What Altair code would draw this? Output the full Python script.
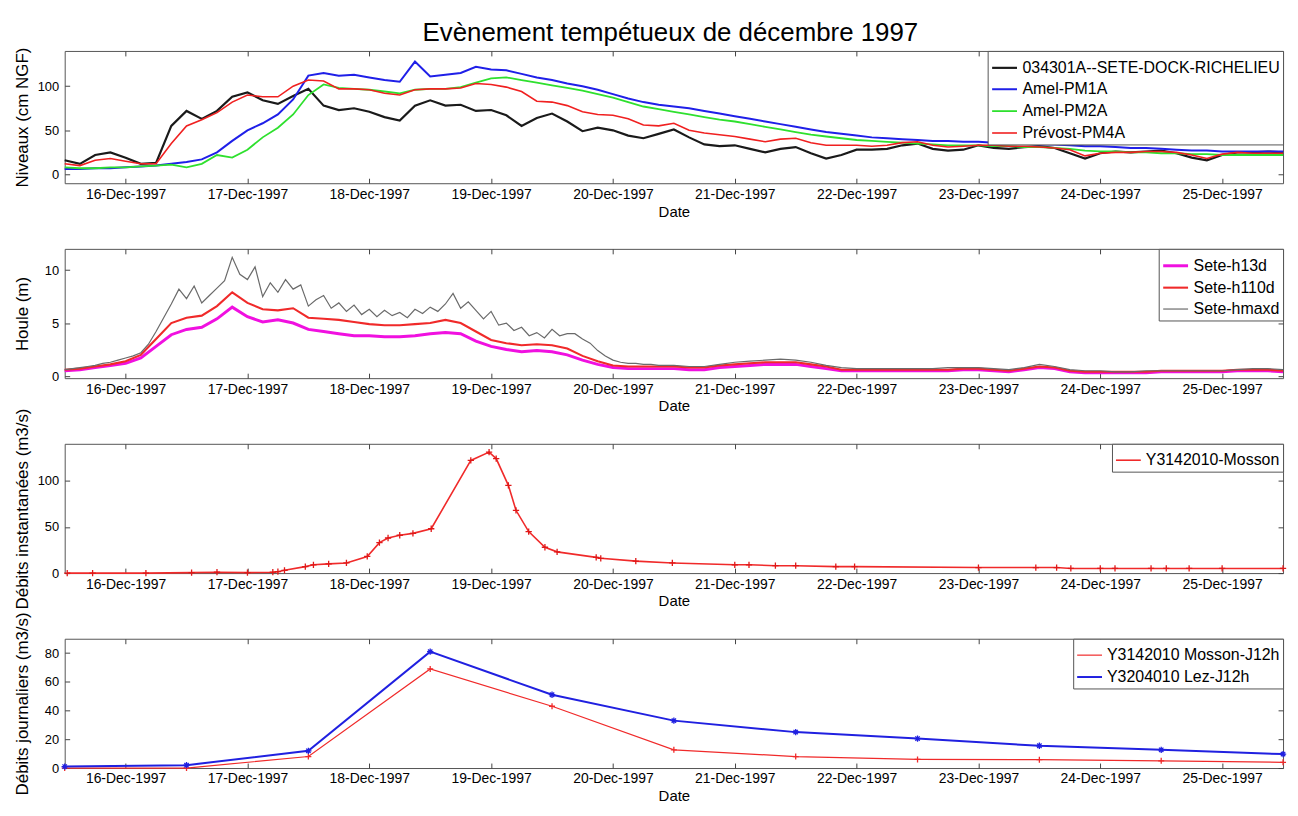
import altair as alt
import pandas as pd

FONT = "Liberation Sans"

# ---------------- data ----------------
# Panel 1 : water levels, 3-hourly from 15-Dec-1997 12:00 (81 values)
niv_names = ["034301A--SETE-DOCK-RICHELIEU", "Amel-PM1A", "Amel-PM2A", "Prévost-PM4A"]
niv_colors = ["#1a1a1a", "#1f1fe8", "#2ee02e", "#f02020"]
niv_dock = [16, 12, 22, 25, 19, 12, 13, 55, 72, 63,
            72, 88, 93, 84, 80, 89, 97, 78, 73, 75,
            71, 65, 61, 78, 84, 78, 79, 72, 73, 67,
            55, 64, 69, 60, 49, 53, 50, 44, 41, 46,
            51, 42, 34, 32, 33, 29, 25, 29, 31, 24,
            18, 22, 28, 28, 29, 33, 35, 29, 27, 28,
            33, 30, 29, 31, 32, 30, 24, 18, 24, 26,
            25, 26, 27, 24, 19, 16, 22, 25, 25, 26, 25]
niv_pm1a = [6, 6, 7, 7, 8, 9, 10, 12, 14, 17,
            25, 38, 50, 58, 68, 85, 112, 115, 112, 113,
            110, 107, 105, 128, 111, 113, 115, 122, 119, 118,
            114, 110, 107, 103, 100, 96, 91, 86, 82, 79,
            77, 75, 72, 69, 66, 63, 60, 57, 54, 51,
            48, 46, 44, 42, 41, 40, 39, 38, 38, 37,
            37, 36, 35, 35, 34, 34, 33, 32, 32, 31,
            30, 30, 29, 28, 27, 27, 26, 26, 26, 26, 26]
niv_pm2a = [8, 7, 7, 8, 8, 9, 10, 11, 8, 12,
            22, 19, 28, 42, 53, 68, 90, 102, 98, 97,
            96, 94, 92, 96, 97, 97, 99, 104, 109, 110,
            107, 104, 101, 98, 95, 91, 87, 82, 77, 74,
            71, 68, 65, 62, 60, 57, 54, 51, 48, 45,
            43, 41, 39, 38, 37, 36, 35, 34, 33, 33,
            33, 32, 32, 31, 31, 30, 29, 27, 26, 26,
            25, 25, 24, 24, 23, 23, 22, 22, 22, 22, 22]
niv_pm4a = [12, 10, 16, 18, 15, 12, 12, 35, 55, 62,
            70, 82, 90, 88, 88, 100, 107, 106, 97, 97,
            96, 92, 90, 96, 97, 97, 98, 103, 102, 99,
            94, 83, 82, 78, 71, 68, 67, 63, 56, 55,
            58, 50, 47, 45, 43, 40, 37, 40, 41, 36,
            33, 33, 33, 32, 33, 36, 37, 33, 31, 32,
            33, 33, 32, 32, 31, 30, 28, 21, 24, 25,
            25, 26, 26, 25, 22, 18, 23, 25, 24, 24, 24]

# Panel 2 : waves (m)
houle_names = ["Sete-h13d", "Sete-h110d", "Sete-hmaxd"]
houle_colors = ["#f010e0", "#f02a2a", "#6a6a6a"]
h13d = [0.5, 0.6, 0.8, 1.0, 1.2, 1.7, 2.8, 3.9, 4.4, 4.6,
        5.4, 6.5, 5.6, 5.1, 5.3, 5.0, 4.4, 4.2, 4.0, 3.8,
        3.8, 3.7, 3.7, 3.8, 4.0, 4.1, 4.0, 3.3, 2.8, 2.5,
        2.3, 2.4, 2.3, 2.0, 1.5, 1.1, 0.8, 0.7, 0.7, 0.7,
        0.7, 0.6, 0.6, 0.8, 0.9, 1.0, 1.1, 1.1, 1.1, 0.9,
        0.7, 0.5, 0.5, 0.5, 0.5, 0.5, 0.5, 0.5, 0.5, 0.6,
        0.6, 0.5, 0.4, 0.6, 0.8, 0.7, 0.4, 0.3, 0.3, 0.3,
        0.3, 0.3, 0.4, 0.4, 0.4, 0.4, 0.4, 0.5, 0.5, 0.5, 0.4]
h110d = [0.6, 0.7, 0.9, 1.1, 1.4, 2.0, 3.5, 5.0, 5.5, 5.7,
         6.6, 7.9, 6.9, 6.3, 6.2, 6.4, 5.5, 5.4, 5.3, 5.1,
         4.9, 4.8, 4.8, 4.9, 5.0, 5.3, 5.0, 4.2, 3.4, 3.1,
         2.9, 3.0, 2.9, 2.6, 1.9, 1.4, 1.0, 0.9, 0.9, 0.9,
         0.9, 0.8, 0.8, 1.0, 1.1, 1.2, 1.3, 1.3, 1.3, 1.1,
         0.9, 0.6, 0.6, 0.6, 0.6, 0.6, 0.6, 0.6, 0.6, 0.7,
         0.7, 0.6, 0.5, 0.7, 0.9, 0.8, 0.5, 0.4, 0.4, 0.4,
         0.4, 0.4, 0.5, 0.5, 0.5, 0.5, 0.5, 0.6, 0.6, 0.6, 0.5]
# hmax: 1.5-hourly during the storm (15-Dec 12:00 -> 20-Dec 12:00), then 3-hourly
hmax_storm = [0.6, 0.7, 0.8, 0.9, 1.0, 1.2, 1.3, 1.5, 1.7, 1.9,
              2.2, 3.0, 4.2, 5.5, 6.8, 8.2, 7.3, 8.5, 6.9, 7.6,
              8.3, 9.0, 11.2, 9.6, 9.1, 10.3, 7.5, 8.8, 7.9, 9.1,
              8.2, 8.6, 6.6, 7.2, 7.6, 6.4, 6.9, 6.1, 6.7, 5.8,
              6.3, 5.6, 6.2, 5.7, 6.0, 5.5, 6.3, 5.9, 6.5, 6.1,
              6.8, 7.8, 6.4, 7.0, 6.2, 5.4, 6.1, 4.8, 5.0, 4.3,
              4.6, 3.8, 4.1, 3.6, 4.4, 3.8, 4.0, 4.0, 3.5, 3.1,
              2.4, 1.9, 1.5, 1.3, 1.2, 1.2, 1.1, 1.1, 1.0, 1.0, 1.0]
hmax_calm = [0.9, 0.9, 1.1, 1.3, 1.4, 1.5, 1.6, 1.5, 1.3,
             1.0, 0.8, 0.7, 0.7, 0.7, 0.7, 0.7, 0.7, 0.8, 0.8,
             0.8, 0.7, 0.6, 0.8, 1.1, 0.9, 0.6, 0.5, 0.5, 0.4,
             0.4, 0.5, 0.5, 0.5, 0.5, 0.5, 0.5, 0.6, 0.7, 0.7, 0.6]

# Panel 3 : instantaneous discharge Mosson (hours after 15-Dec-1997 12:00)
mosson_name = "Y3142010-Mosson"
mosson_hours = [0.5, 5.5, 16, 25, 30, 36, 41, 42, 43.3, 47.4,
                49, 52, 55.5, 59.6, 62, 63.7, 66, 68.6, 72.2, 80,
                83.6, 85, 87.4, 88.9, 91.4, 94.6, 97, 104.7, 105.6, 112.5,
                119.7, 132, 134.8, 140, 144, 151.9, 155.6, 180, 191.3, 195.4,
                198.2, 204, 206.9, 214, 217, 221.5, 228, 240]
mosson_q = [0, 0, 0, 0.5, 1, 0.5, 1, 1.5, 3, 7,
            9, 10, 11, 18, 33, 38, 41, 43, 48, 122,
            131, 124, 95, 68, 45, 28, 23, 17, 16, 13,
            11, 9, 9, 8, 8, 7, 7, 6, 6, 6,
            5, 5, 5, 5, 5, 5, 5, 5]

# Panel 4 : daily discharge at 12h (15-Dec .. 25-Dec)
daily_names = ["Y3142010 Mosson-J12h", "Y3204010 Lez-J12h"]
daily_colors = ["#f02a2a", "#2020e0"]
mosson_j12 = [0, 0, 8, 69, 43, 12.7, 8, 6, 5.8, 5, 4]
lez_j12 = [1, 2, 12, 81, 51, 33, 25, 20.5, 15.5, 12.7, 9.7]

# ---------------- tables ----------------
T0 = pd.Timestamp("1997-12-15 12:00")


def stamps(start, step_h, n):
    return [start + pd.Timedelta(hours=step_h * i) for i in range(n)]


def long_df(series, names, start, step_h):
    rows = []
    for vals, name in zip(series, names):
        for t, v in zip(stamps(start, step_h, len(vals)), vals):
            rows.append({"t": t, "v": v, "s": name})
    return rows


df1 = pd.DataFrame(long_df([niv_dock, niv_pm1a, niv_pm2a, niv_pm4a], niv_names, T0, 3))
rows2 = long_df([h13d, h110d], houle_names[:2], T0, 3)
rows2 += long_df([hmax_storm], [houle_names[2]], T0, 1.5)
rows2 += long_df([hmax_calm], [houle_names[2]], T0 + pd.Timedelta(hours=123), 3)
df2 = pd.DataFrame(rows2)
df3 = pd.DataFrame({"t": [T0 + pd.Timedelta(hours=h) for h in mosson_hours],
                    "v": mosson_q, "s": mosson_name})
df4 = pd.DataFrame(long_df([mosson_j12, lez_j12], daily_names, T0, 24))

# ---------------- helpers ----------------
XSCALE = alt.Scale(domain=[alt.DateTime(year=1997, month=12, date=15, hours=12),
                           alt.DateTime(year=1997, month=12, date=25, hours=12)])
XTICKS = [alt.DateTime(year=1997, month=12, date=d) for d in range(16, 26)]
W, H = 1225, 130
PLUS = "M-1,0L1,0M0,-1L0,1"
STAR = "M-1,0L1,0M0,-1L0,1M-0.7,-0.7L0.7,0.7M-0.7,0.7L0.7,-0.7"


def x_bottom():
    return alt.X("t:T", scale=XSCALE,
                 axis=alt.Axis(orient="bottom", values=XTICKS, format="%d-%b-%Y",
                               title="Date", offset=-5, tickSize=5, domain=False,
                               grid=False, labelPadding=4, titlePadding=3,
                               labelOverlap=False, labelFlush=False))


def x_top():
    return alt.X("t:T", scale=XSCALE,
                 axis=alt.Axis(orient="top", values=XTICKS, labels=False, title=None,
                               offset=-5, tickSize=5, domain=False, grid=False))


def y_left(title, dom, ticks):
    return alt.Y("v:Q", scale=alt.Scale(domain=dom, nice=False, zero=False),
                 axis=alt.Axis(orient="left", values=ticks, title=title, offset=-5,
                               tickSize=5, domain=False, grid=False, labelPadding=6,
                               minExtent=30, maxExtent=30, titlePadding=8))


def y_right(dom, ticks):
    return alt.Y("v:Q", scale=alt.Scale(domain=dom, nice=False, zero=False),
                 axis=alt.Axis(orient="right", values=ticks, labels=False, title=None,
                               offset=-5, tickSize=5, domain=False, grid=False))


def frame_layer(df, dom, ticks):
    return alt.Chart(df).mark_line(opacity=0).encode(
        x=x_top(), y=y_right(dom, ticks), detail="s:N")


def markers(df, name, shape, color, size):
    return alt.Chart(df).transform_filter(alt.datum.s == name).mark_point(
        shape=shape, filled=False, size=size, strokeWidth=1.3, color=color, opacity=1
    ).encode(x=alt.X("t:T", axis=None), y=alt.Y("v:Q", axis=None))


def leg(row_pad=-8):
    return alt.Legend(title=None, symbolType="stroke", rowPadding=row_pad)


def series_enc(names, colors, widths):
    return dict(
        color=alt.Color("s:N", scale=alt.Scale(domain=names, range=colors), legend=leg()),
        strokeWidth=alt.StrokeWidth("s:N", scale=alt.Scale(domain=names, range=widths),
                                    legend=leg()),
    )


# ---------------- panels ----------------
dom1, tk1 = [-10, 140], [0, 50, 100]
p1 = alt.layer(
    alt.Chart(df1).mark_line().encode(
        x=x_bottom(), y=y_left("Niveaux (cm NGF)", dom1, tk1),
        **series_enc(niv_names, niv_colors, [2.2, 1.6, 1.6, 1.6])),
    frame_layer(df1, dom1, tk1),
).properties(width=W, height=H + 3)

dom2, tk2 = [-0.2, 12], [0, 5, 10]
p2 = alt.layer(
    alt.Chart(df2).mark_line().encode(
        x=x_bottom(), y=y_left("Houle (m)", dom2, tk2),
        **series_enc(houle_names, houle_colors, [3.0, 1.2, 1.0])),
    frame_layer(df2, dom2, tk2),
).properties(width=W, height=H)

dom3, tk3 = [0, 140], [0, 50, 100]
p3 = alt.layer(
    alt.Chart(df3).mark_line(strokeWidth=1.6).encode(
        x=x_bottom(), y=y_left("Débits instantanées (m3/s)", dom3, tk3),
        color=alt.Color("s:N", scale=alt.Scale(domain=[mosson_name], range=["#f02a2a"]),
                        legend=leg(0))),
    markers(df3, mosson_name, PLUS, "#e01818", 40),
    frame_layer(df3, dom3, tk3),
).properties(width=W, height=H)

dom4, tk4 = [0, 90], [0, 20, 40, 60, 80]
p4 = alt.layer(
    alt.Chart(df4).mark_line().encode(
        x=x_bottom(), y=y_left("Débits journaliers (m3/s)", dom4, tk4),
        **series_enc(daily_names, daily_colors, [1.2, 2.0])),
    markers(df4, daily_names[0], PLUS, daily_colors[0], 36),
    markers(df4, daily_names[1], STAR, daily_colors[1], 40),
    frame_layer(df4, dom4, tk4),
).properties(width=W, height=H)

chart = alt.vconcat(
    p1, p2, p3, p4, spacing=66, bounds="flush",
    title=alt.TitleParams("Evènement tempétueux de décembre 1997", fontSize=26,
                          font=FONT, fontWeight="normal", anchor="middle", offset=1,
                          dx=19, color="black"),
    padding={"left": 5, "top": 9, "right": 0, "bottom": 0},
).resolve_scale(
    color="independent", strokeWidth="independent"
).configure(font=FONT).configure_view(
    stroke="#555", strokeWidth=1
).configure_axis(
    labelFont=FONT, labelFontSize=13, labelColor="black", titleFont=FONT,
    titleFontSize=15, titleFontWeight="normal", titleColor="black", tickColor="#444"
).configure_axisLeft(
    titleFontSize=17
).configure_axisBottom(
    labelFontSize=14
).configure_legend(
    orient="top-right", offset=0, strokeColor="#555", fillColor="white", padding=3,
    labelFont=FONT, labelFontSize=16, labelColor="black", labelLimit=0,
    symbolSize=625, symbolStrokeWidth=1.6, labelOffset=4
)

chart.save("out.html", embed_options={"renderer": "svg", "actions": False})
